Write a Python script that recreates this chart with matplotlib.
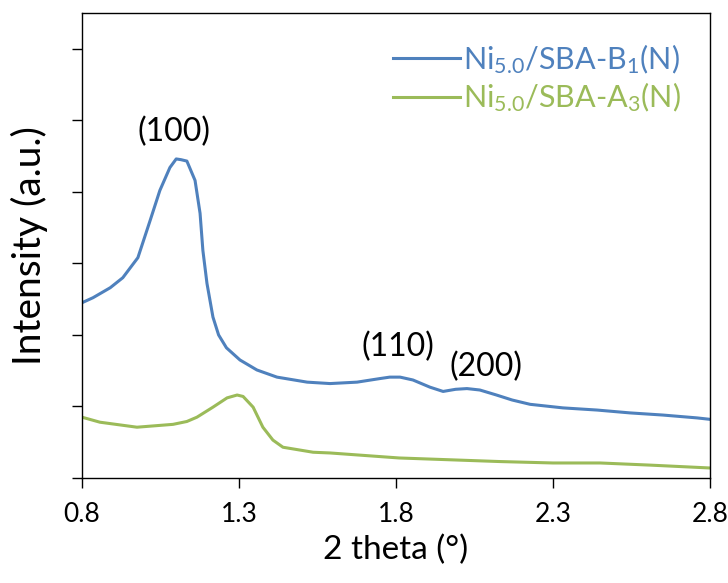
import matplotlib.pyplot as plt

# Ni5.0/SBA-B1(N)
b1_theta = [0.80, 0.835, 0.89, 0.93, 0.978, 1.017, 1.048, 1.08, 1.10, 1.115, 1.134, 1.16, 1.176,
            1.185, 1.198, 1.217, 1.235, 1.26, 1.303, 1.357, 1.421, 1.517, 1.59, 1.676, 1.749, 1.78,
            1.813, 1.854, 1.908, 1.95, 1.99, 2.026, 2.067, 2.12, 2.17, 2.227, 2.332, 2.44,
            2.545, 2.65, 2.759, 2.80]
b1_int = [2.45, 2.52, 2.66, 2.80, 3.08, 3.60, 4.02, 4.34, 4.46, 4.45, 4.43, 4.16, 3.70,
          3.18, 2.72, 2.25, 2.00, 1.82, 1.65, 1.51, 1.41, 1.34, 1.32, 1.34, 1.39, 1.41,
          1.41, 1.37, 1.27, 1.21, 1.24, 1.25, 1.23, 1.16, 1.09, 1.03, 0.98, 0.95,
          0.91, 0.88, 0.84, 0.82]

# Ni5.0/SBA-A3(N)
a3_theta = [0.80, 0.857, 0.975, 1.09, 1.134, 1.166, 1.217, 1.262, 1.294, 1.313, 1.345, 1.376,
            1.408, 1.44, 1.536, 1.59, 1.81, 2.13, 2.30, 2.45, 2.61, 2.80]
a3_int = [0.85, 0.78, 0.71, 0.75, 0.79, 0.85, 0.99, 1.12, 1.16, 1.14, 0.99, 0.71,
          0.53, 0.43, 0.36, 0.35, 0.28, 0.23, 0.21, 0.21, 0.18, 0.14]

peak_labels = ['(100)', '(110)', '(200)']
peak_x = [1.093, 1.806, 2.087]
peak_y = [4.84, 1.83, 1.55]

plt.rcParams['font.family'] = ['Lato', 'DejaVu Sans']
plt.rcParams['mathtext.fontset'] = 'custom'
plt.rcParams['mathtext.rm'] = 'Lato'
plt.rcParams['mathtext.it'] = 'Lato:italic'
plt.rcParams['mathtext.bf'] = 'Lato:bold'

fig = plt.figure(figsize=(7.28, 5.83), dpi=100)
ax = fig.add_axes([82 / 728, 105 / 583, 628 / 728, 465 / 583])

ax.plot(b1_theta, b1_int, color='#4f81bd', lw=2.2, label=r'Ni$_{\mathrm{5.0}}$/SBA-B$_{\mathrm{1}}$(N)')
ax.plot(a3_theta, a3_int, color='#9bbb59', lw=2.2, label=r'Ni$_{\mathrm{5.0}}$/SBA-A$_{\mathrm{3}}$(N)')

for lab, x, y in zip(peak_labels, peak_x, peak_y):
    ax.text(x, y, lab, fontsize=23, ha='center', va='center')

ax.set_xlim(0.8, 2.8)
ax.set_ylim(0, 6.5)
ax.set_xticks([0.8, 1.3, 1.8, 2.3, 2.8])
ax.set_yticks(range(7))
ax.set_yticklabels([])
ax.tick_params(axis='x', labelsize=19, length=7, width=1, pad=10)
ax.tick_params(axis='y', length=7, width=1)
for s in ax.spines.values():
    s.set_linewidth(1)

ax.set_xlabel('2 theta (°)', fontsize=24, labelpad=6)
ax.set_ylabel('Intensity (a.u.)', fontsize=28, labelpad=14)

leg = ax.legend(loc='upper right', frameon=False, fontsize=22, handlelength=2.2,
                handletextpad=0.1, borderaxespad=0.55, labelspacing=0.17)
for txt, line in zip(leg.get_texts(), leg.get_lines()):
    txt.set_color(line.get_color())

fig.savefig('out.png', dpi=100)
